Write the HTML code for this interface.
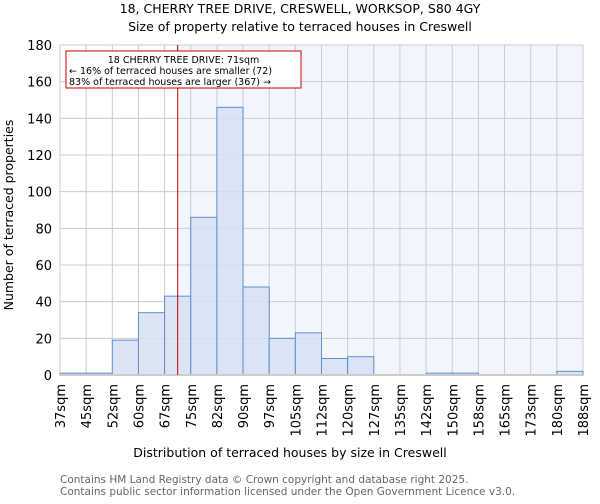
<!DOCTYPE html>
<html><head><meta charset="utf-8"><style>
body{margin:0;background:#fff;font-family:"DejaVu Sans","Liberation Sans",sans-serif;}
svg text{font-family:"DejaVu Sans","Liberation Sans",sans-serif;}
</style></head><body>
<svg id="c" width="600" height="500" xmlns="http://www.w3.org/2000/svg">
<text x="300" y="13" text-anchor="middle" font-size="12.5">18, CHERRY TREE DRIVE, CRESWELL, WORKSOP, S80 4GY</text>
<text x="300" y="31" text-anchor="middle" font-size="12.5">Size of property relative to terraced houses in Creswell</text>
<g id="plot"></g>
<text x="290" y="457" text-anchor="middle" font-size="12.5">Distribution of terraced houses by size in Creswell</text>
<text transform="translate(13,215) rotate(-90)" text-anchor="middle" font-size="12.5">Number of terraced properties</text>
<text x="60" y="483" font-size="10.5" fill="#666">Contains HM Land Registry data © Crown copyright and database right 2025.</text>
<text x="60" y="495" font-size="10.5" fill="#666">Contains public sector information licensed under the Open Government Licence v3.0.</text>
</svg>
<script>
const binLabels=["37sqm","45sqm","52sqm","60sqm","67sqm","75sqm","82sqm","90sqm","97sqm","105sqm","112sqm","120sqm","127sqm","135sqm","142sqm","150sqm","158sqm","165sqm","173sqm","180sqm","188sqm"];
const binEdges=[37,45,52,60,67,75,82,90,97,105,112,120,127,135,142,150,158,165,173,180,188];
const counts=[1,1,19,34,43,86,146,48,20,23,9,10,0,0,1,1,0,0,0,2];
const yTicks=[0,20,40,60,80,100,120,140,160,180];
const propertySize=71;
const NS="http://www.w3.org/2000/svg";
const L=60,R=583,T=45,B=375,yMax=180;
const n=counts.length;
const xi=i=>L+(R-L)*i/n;
const xv=v=>{for(let i=0;i<binEdges.length-1;i++){if(v<=binEdges[i+1])return xi(i)+(v-binEdges[i])/(binEdges[i+1]-binEdges[i])*(xi(i+1)-xi(i));}return R;};
const y=v=>B-(B-T)*v/yMax;
const g=document.getElementById('plot');
function mk(t,a){const e=document.createElementNS(NS,t);for(const k in a)e.setAttribute(k,a[k]);g.appendChild(e);return e;}
const px=xv(propertySize);
let bg=mk('rect',{x:px,y:T,width:R-px,height:B-T,fill:'#f2f5fc'});


for(let i=0;i<=n;i++){let l=mk('line',{x1:xi(i),x2:xi(i),y1:T,y2:B,stroke:'#ccc','stroke-width':1});

}
yTicks.forEach(t=>{let l=mk('line',{x1:L,x2:R,y1:y(t),y2:y(t),stroke:'#ccc','stroke-width':1});


let tx=mk('text',{x:L-8,y:y(t)+5,'text-anchor':'end','font-size':13});tx.textContent=t;

});
counts.forEach((c,i)=>{let r=mk('rect',{x:xi(i),y:y(c),width:xi(i+1)-xi(i),height:B-y(c),fill:'#d6e0f2','fill-opacity':0.85,stroke:'#5b8fd6','stroke-width':1});

});
binLabels.forEach((s,i)=>{let tx=mk('text',{transform:`translate(${xi(i)+5},384) rotate(-90)`,'text-anchor':'end','font-size':13});tx.textContent=s;

});
let ax=mk('line',{x1:L,x2:R,y1:B,y2:B,stroke:'#ccc','stroke-width':2});


let rl=mk('line',{x1:px,x2:px,y1:T,y2:B,stroke:'#c00','stroke-width':1});


let box=mk('rect',{x:66,y:51,width:235,height:37,fill:'#fff',stroke:'#c00','stroke-width':1});


[["18 CHERRY TREE DRIVE: 71sqm",183.5,63,'middle'],["← 16% of terraced houses are smaller (72)",69,74,'start'],["83% of terraced houses are larger (367) →",69,85,'start']].forEach((a,i)=>{let tx=mk('text',{x:a[1],y:a[2],'font-size':9.5,'text-anchor':a[3]});tx.textContent=a[0];

});
</script>
</body></html>
